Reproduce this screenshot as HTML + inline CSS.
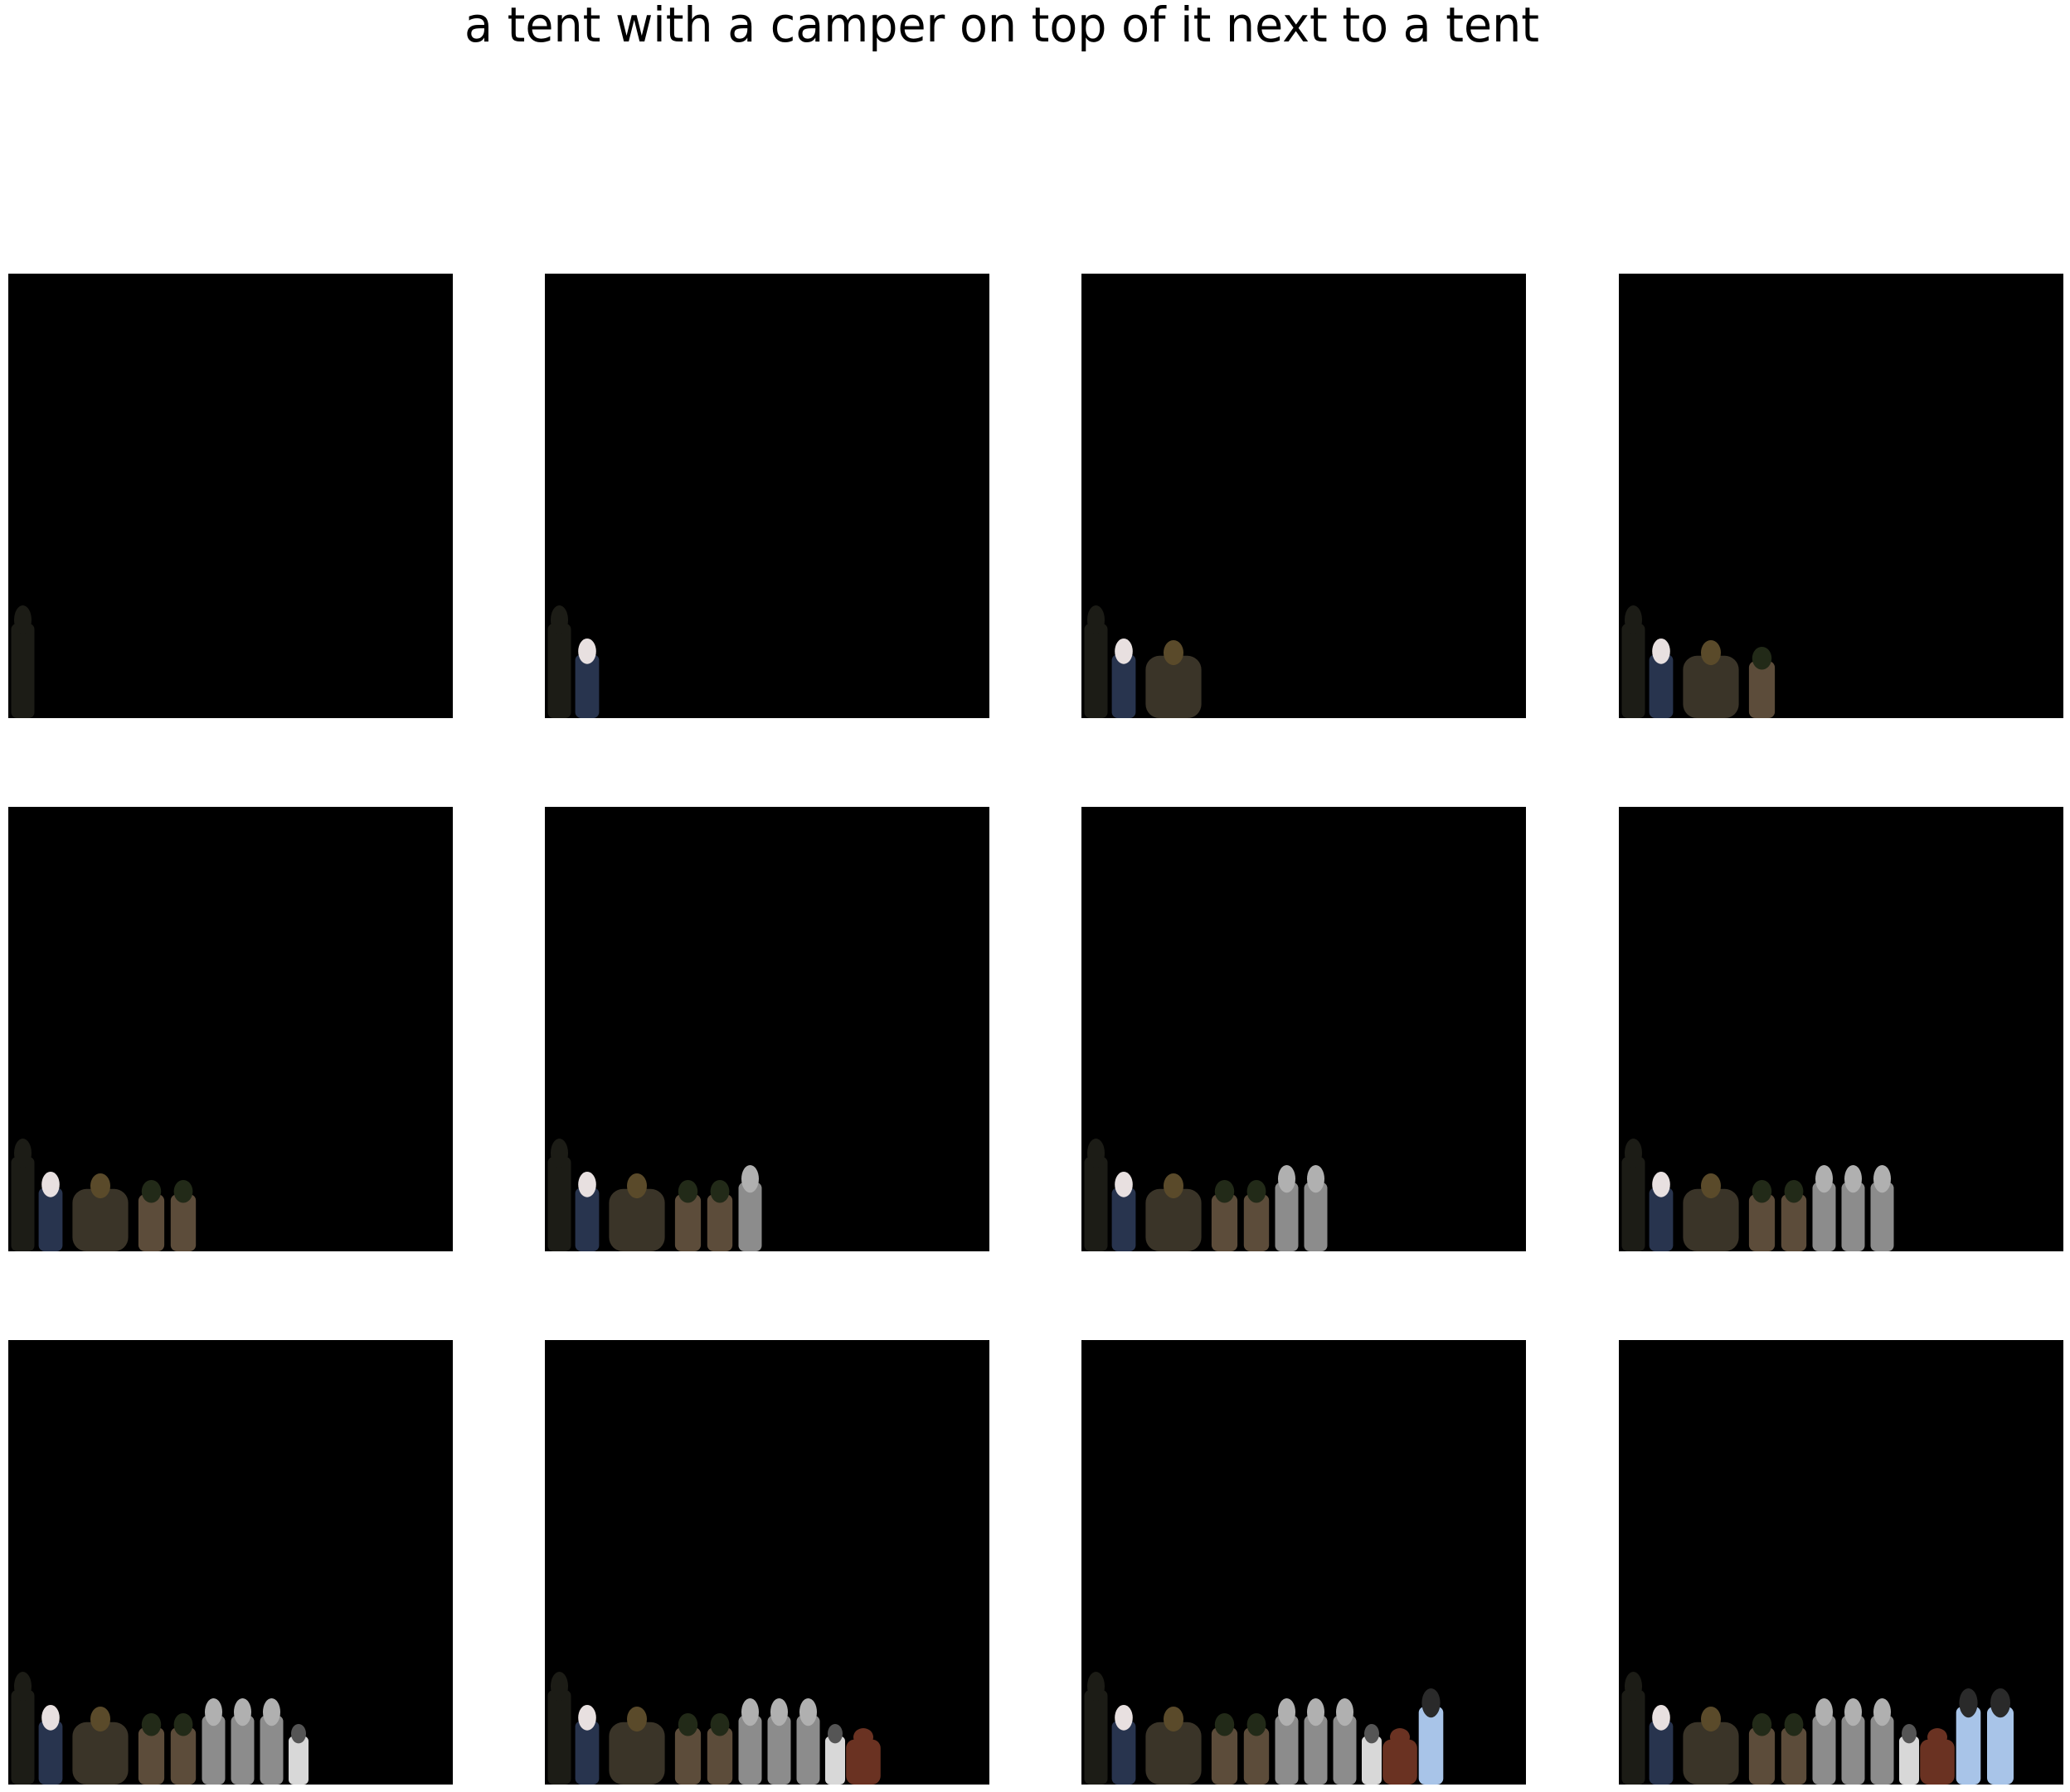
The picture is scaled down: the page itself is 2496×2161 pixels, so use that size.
<!DOCTYPE html>
<html><head><meta charset="utf-8"><style>
html,body{margin:0;padding:0;background:#fff;width:2496px;height:2161px;overflow:hidden}
svg{display:block}
</style></head><body>
<svg id="fig" width="2496" height="2161" viewBox="0 0 2496 2161">
<text x="1208" y="50" text-anchor="middle" font-family="DejaVu Sans, Liberation Sans, sans-serif" font-size="58" textLength="1296" lengthAdjust="spacingAndGlyphs" fill="#000">a tent with a camper on top of it next to a tent</text>
<g id="panels"></g>
</svg>
<script>
const panelX = [10, 657, 1304, 1952];
const panelY = [330, 973, 1616];
const panelSize = 536;
const itemNames = ['tent','navy-person','backpack-person','brown-person-1','brown-person-2','gray-person-1','gray-person-2','gray-person-3','white-object','brown-blob','blue-person-1','blue-person-2'];
const itemX0 = [0,33,69,153,192,230,265,300,335,358,403,440];
const itemX1 = [35,69,153,192,230,265,300,335,365,410,440,480];
const itemTop = [400,440,442,450,450,432,432,432,463,468,420,420];
const itemColor = ['#1c1c16','#28344e','#3a3428','#5c4c3a','#5c4c3a','#8c8c8c','#8c8c8c','#8c8c8c','#d8d8d8','#6a3222','#a8c4e8','#a8c4e8'];
const headColor = ['#1c1c16','#e8e0e0','#5a4a2a','#222a18','#222a18','#b0b0b0','#b0b0b0','#b0b0b0','#555555','#6a3222','#2a2a2a','#2a2a2a'];
const ns='http://www.w3.org/2000/svg';
const g=document.getElementById('panels');
for(let r=0;r<3;r++)for(let c=0;c<4;c++){
  const k=r*4+c;
  const px=panelX[c], py=panelY[r];
  const pg=document.createElementNS(ns,'g');
  
  
  const bg=document.createElementNS(ns,'rect');
  bg.setAttribute('x',px);bg.setAttribute('y',py);bg.setAttribute('width',panelSize);bg.setAttribute('height',panelSize);bg.setAttribute('fill','#000');
  
  
  pg.appendChild(bg);
  for(let i=0;i<=k;i++){
    const x0=px+itemX0[i], w=itemX1[i]-itemX0[i], top=py+itemTop[i], h=py+panelSize-top;
    const it=document.createElementNS(ns,'g');
    
    
    const body=document.createElementNS(ns,'rect');
    const hh=Math.min(22,h*0.2);
    body.setAttribute('x',x0+w*0.1);body.setAttribute('y',top+hh);body.setAttribute('width',w*0.8);body.setAttribute('height',h-hh);
    body.setAttribute('rx',w*0.2);body.setAttribute('fill',itemColor[i]);
    it.appendChild(body);
    const head=document.createElementNS(ns,'ellipse');
    head.setAttribute('cx',x0+w/2);head.setAttribute('cy',top+hh*0.8);head.setAttribute('rx',Math.min(w*0.3,12));head.setAttribute('ry',hh*0.8);
    head.setAttribute('fill',headColor[i]);
    it.appendChild(head);
    pg.appendChild(it);
  }
  g.appendChild(pg);
}
</script>
</body></html>
